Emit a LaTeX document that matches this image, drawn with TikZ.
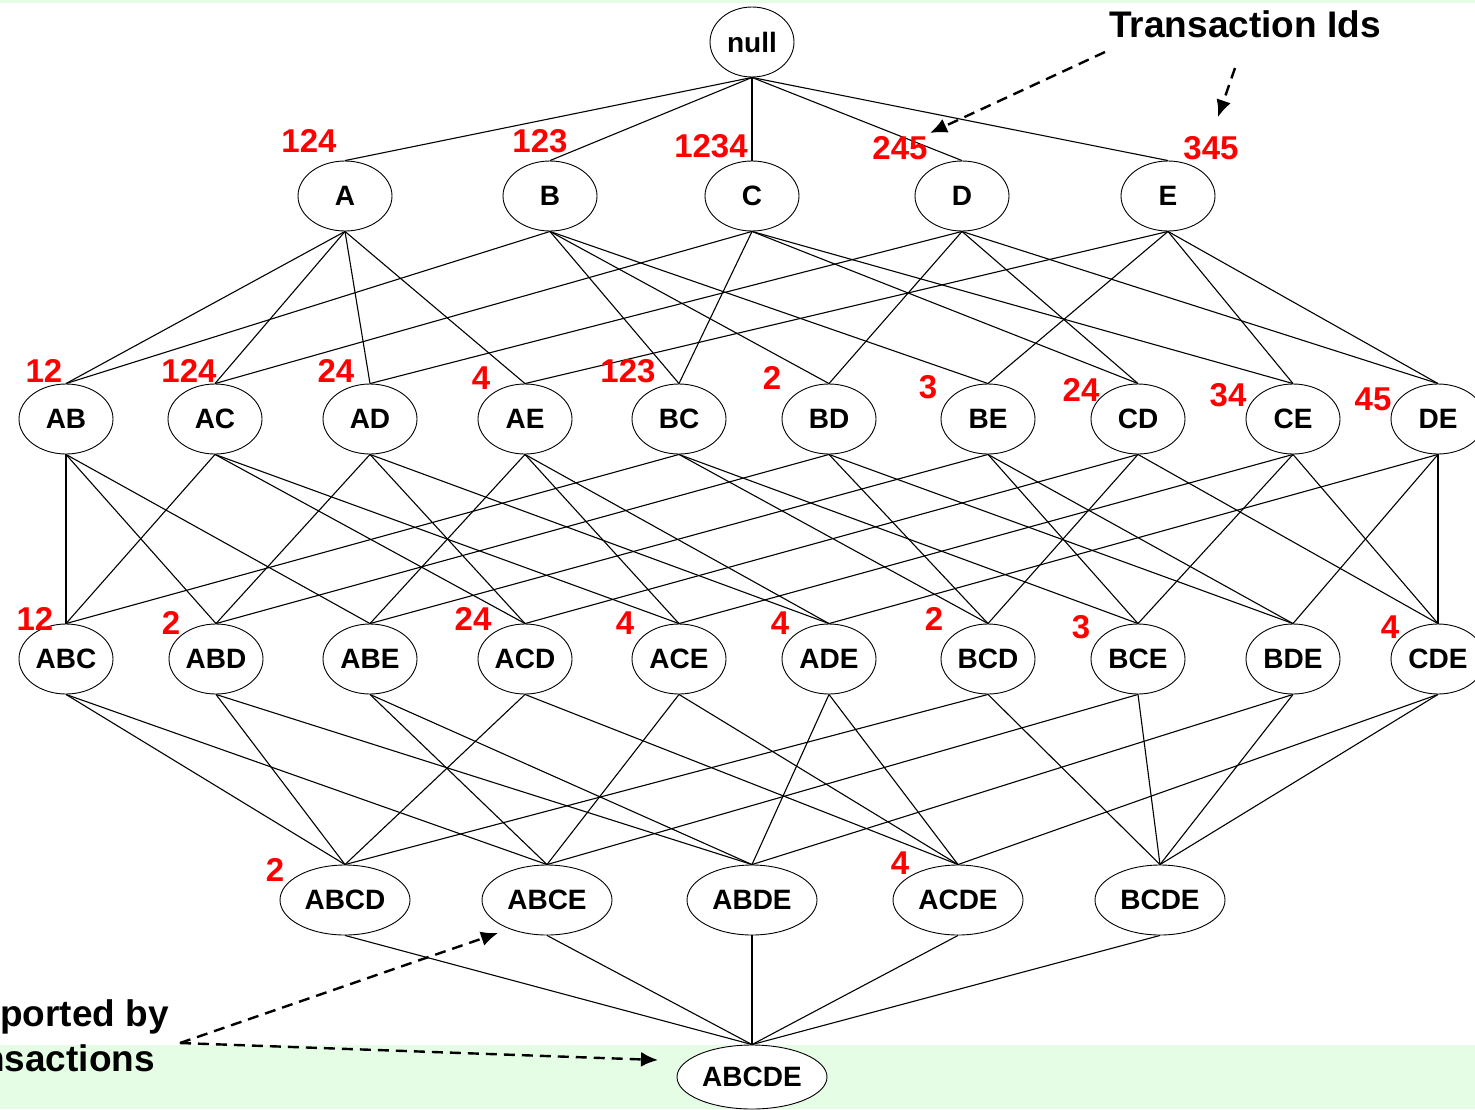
\documentclass[tikz,border=0pt]{standalone}
\usepackage{fontspec}
\setmainfont{Liberation Sans}
\usetikzlibrary{shapes.geometric,arrows.meta}
\definecolor{bggreen}{RGB}{229,252,229}
\begin{document}
\begin{tikzpicture}[x=1pt,y=-1pt,
  itemset/.style={ellipse,draw=black,line width=0.9pt,fill=white,inner sep=0pt,
     minimum width=94pt,minimum height=70pt,font=\fontsize{28}{28}\selectfont\bfseries},
  bigset/.style={itemset,minimum width=130pt},
  tid/.style={text=red,inner sep=0pt,font=\fontsize{33}{33}\selectfont\bfseries},
  note/.style={inner sep=0pt,font=\fontsize{37}{37}\selectfont\bfseries},
  edge/.style={line width=1.1pt},
  pointer/.style={dashed,line width=2.4pt,dash pattern=on 11pt off 7pt,-{Latex[length=17pt,width=15pt]}}]
\useasboundingbox (0,0) rectangle (1475,1109);
\fill[bggreen] (0,0) rectangle (1475,3);
\fill[bggreen] (0,1045) rectangle (1475,1109);
% nodes
\node[itemset,minimum width=84pt] (null) at (752,42) {null};
\foreach \n/\x in {A/345,B/550,C/752,D/962,E/1168}
  \node[itemset] (\n) at (\x,196) {\n};
\foreach \n/\x in {AB/66,AC/215,AD/370,AE/525,BC/679,BD/829,BE/988,CD/1138,CE/1293,DE/1438}
  \node[itemset] (\n) at (\x,419) {\n};
\foreach \n/\x in {ABC/66,ABD/216,ABE/370,ACD/525,ACE/679,ADE/829,BCD/988,BCE/1138,BDE/1293,CDE/1438}
  \node[itemset] (\n) at (\x,659) {\n};
\foreach \n/\x in {ABCD/345,ABCE/547,ABDE/752,ACDE/958,BCDE/1160}
  \node[bigset] (\n) at (\x,900) {\n};
\node[itemset,minimum width=150pt,minimum height=64pt] (ABCDE) at (752,1077) {ABCDE};
% edges
\begin{scope}[on background layer/.style={}]
\foreach \p/\c in {null/A,null/B,null/C,null/D,null/E,
  A/AB,A/AC,A/AD,A/AE,B/AB,B/BC,B/BD,B/BE,C/AC,C/BC,C/CD,C/CE,D/AD,D/BD,D/CD,D/DE,E/AE,E/BE,E/CE,E/DE,
  AB/ABC,AB/ABD,AB/ABE,AC/ABC,AC/ACD,AC/ACE,AD/ABD,AD/ACD,AD/ADE,AE/ABE,AE/ACE,AE/ADE,
  BC/ABC,BC/BCD,BC/BCE,BD/ABD,BD/BCD,BD/BDE,BE/ABE,BE/BCE,BE/BDE,CD/ACD,CD/BCD,CD/CDE,
  CE/ACE,CE/BCE,CE/CDE,DE/ADE,DE/BDE,DE/CDE,
  ABC/ABCD,ABC/ABCE,ABD/ABCD,ABD/ABDE,ABE/ABCE,ABE/ABDE,ACD/ABCD,ACD/ACDE,ACE/ABCE,ACE/ACDE,
  ADE/ABDE,ADE/ACDE,BCD/ABCD,BCD/BCDE,BCE/ABCE,BCE/BCDE,BDE/ABDE,BDE/BCDE,CDE/ACDE,CDE/BCDE,
  ABCD/ABCDE,ABCE/ABCDE,ABDE/ABCDE,ACDE/ABCDE,BCDE/ABCDE}
  \draw[edge] (\p.south) -- (\c.north);
\end{scope}
% transaction id labels
\node[tid] (tA) at (309,141) {124};
\node[tid] (tB) at (540,141) {123};
\node[tid] (tC) at (711,146) {1234};
\node[tid] (tD) at (900,148) {245};
\node[tid] (tE) at (1211,148) {345};
\node[tid] (tAB) at (44,371) {12};
\node[tid] (tAC) at (189,371) {124};
\node[tid] (tAD) at (336,371) {24};
\node[tid] (tAE) at (481,378) {4};
\node[tid] (tBC) at (628,371) {123};
\node[tid] (tBD) at (772,378) {2};
\node[tid] (tBE) at (928,387) {3};
\node[tid] (tCD) at (1081,390) {24};
\node[tid] (tCE) at (1228,395) {34};
\node[tid] (tDE) at (1373,399) {45};
\node[tid] (tABC) at (35,619) {12};
\node[tid] (tABD) at (171,623) {2};
\node[tid] (tACD) at (473,619) {24};
\node[tid] (tACE) at (625,623) {4};
\node[tid] (tADE) at (780,623) {4};
\node[tid] (tBCD) at (934,619) {2};
\node[tid] (tBCE) at (1081,627) {3};
\node[tid] (tCDE) at (1390,627) {4};
\node[tid] (tABCD) at (275,870) {2};
\node[tid] (tACDE) at (900,863) {4};
% notes
\node[note] (tids) at (1245,24) {Transaction Ids};
\coordinate (p1) at (1105,52);
\coordinate (q1) at (930,133);
\coordinate (p2) at (1235,68);
\coordinate (q2) at (1218,117);
\draw[pointer] (p1) -- (q1);
\draw[pointer] (p2) -- (q2);
\node[note,anchor=west] (sup1) at (0,1017) {ported by};
\node[note,anchor=east] (sup2) at (155,1058) {nsactions};
\coordinate (p3) at (180,1043);
\coordinate (q3) at (498,933);
\coordinate (q4) at (658,1060);
\draw[pointer] (p3) -- (q3);
\draw[pointer] (p3) -- (q4);
\end{tikzpicture}
\end{document}
